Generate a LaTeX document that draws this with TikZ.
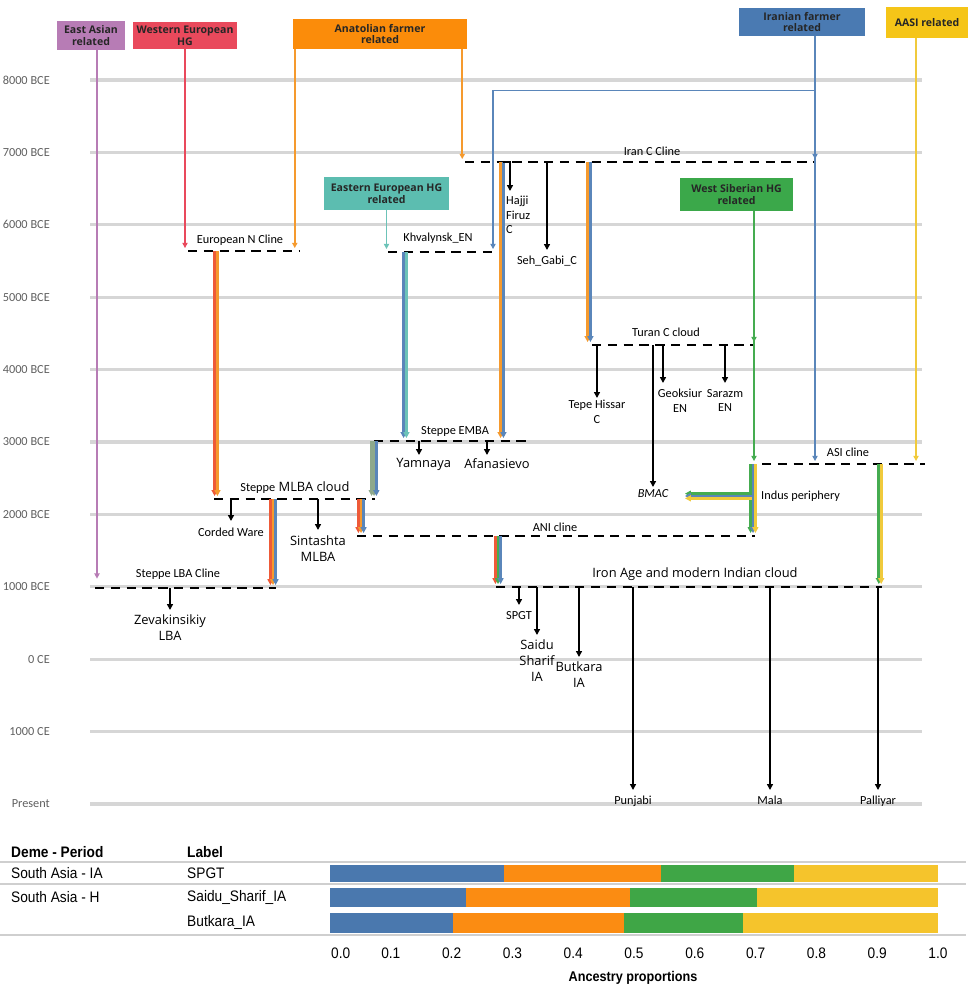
\documentclass[tikz,border=0pt]{standalone}
\usepackage{fontspec}
\setmainfont{Open Sans}
\newfontfamily\narrowfont{Carlito}
\newfontfamily\tablefont[FakeStretch=0.9]{Liberation Sans}
\usetikzlibrary{arrows.meta,calc,positioning}

\definecolor{eacol}{HTML}{B77CB5}
\definecolor{whgcol}{HTML}{E9495C}
\definecolor{anabox}{HTML}{FB8C0A}
\definecolor{anacol}{HTML}{F59A2E}
\definecolor{irbox}{HTML}{4A7AB2}
\definecolor{ircol}{HTML}{5A86BA}
\definecolor{aabox}{HTML}{F5C518}
\definecolor{aacol}{HTML}{F0CA3C}
\definecolor{ehbox}{HTML}{5CBDB0}
\definecolor{ehcol}{HTML}{6CC3B8}
\definecolor{wsbox}{HTML}{3BA84A}
\definecolor{wscol}{HTML}{45AC50}
\definecolor{redmix}{HTML}{EE5A38}
\definecolor{sagecol}{HTML}{8EA98C}
\definecolor{gridcol}{HTML}{D6D6D6}
\definecolor{yrcol}{HTML}{606060}
\definecolor{sepcol}{HTML}{CFCFCF}
\definecolor{barblue}{HTML}{4A78AE}
\definecolor{barorange}{HTML}{FB8C12}
\definecolor{bargreen}{HTML}{3FA646}
\definecolor{baryellow}{HTML}{F5C42C}

\newlength\pxu
\setlength\pxu{0.03cm}

% several coloured strands side by side, one arrow tip each
\newcommand\bundle[4][xshift]{%
  \foreach \bc/\bo in {#4}{\draw[bund,\bc] ([#1=\bo]#2) -- ([#1=\bo]#3);}}

\tikzset{
  yrline/.style={gridcol,line width=2.6pt},
  cline/.style={black,line width=2.3pt,dash pattern=on 8pt off 5.5pt},
  src/.style={line width=1.6pt,-{Triangle[length=4.5pt,width=4.5pt]},shorten >=2.5pt},
  bund/.style={line width=2.4pt,-{Triangle[length=5pt,width=5pt]},shorten >=2.5pt},
  kid/.style={black,line width=1.4pt,-{Triangle[length=5pt,width=5pt]}},
  srcbox/.style={inner sep=0pt,align=center,text=black!85,font=\bfseries\fontsize{9}{10.2}\selectfont},
  lbl/.style={inner sep=0pt,align=center,font=\narrowfont\fontsize{10.5}{12.5}\selectfont},
  wlbl/.style={inner sep=0pt,align=center,font=\fontsize{11}{13.5}\selectfont},
  yr/.style={inner sep=0pt,anchor=east,text=yrcol,font=\narrowfont\fontsize{10.5}{12}\selectfont},
  tabtxt/.style={inner sep=0pt,anchor=west,font=\tablefont\fontsize{13}{15}\selectfont},
  tabhead/.style={tabtxt,font=\tablefont\bfseries\fontsize{13}{15}\selectfont},
  tabline/.style={sepcol,line width=1.3pt},
}

\begin{document}
\begin{tikzpicture}[x=0.03cm,y=-0.03cm]
  \fill[white] (0,0) rectangle (975,988);
  \useasboundingbox (0,0) rectangle (975,988);

  % time axis
  \foreach \yl [count=\i from 0] in {8000 BCE,7000 BCE,6000 BCE,5000 BCE,4000 BCE,3000 BCE,2000 BCE,1000 BCE,0 CE,1000 CE,Present}{
    \draw[yrline] (90,{80+72.4*\i}) -- (922,{80+72.4*\i});
    \node[yr] (yr\i) at (50,{80+72.4*\i}) {\yl};
  }

  % source populations
  \node[srcbox,fill=eacol,minimum width=68\pxu,minimum height=29\pxu] (eas) at (91,35.5) {East Asian\\related};
  \node[srcbox,fill=whgcol,minimum width=104\pxu,minimum height=27\pxu] (weh) at (185,35.5) {Western European\\HG};
  \node[srcbox,fill=anabox,minimum width=174\pxu,minimum height=30\pxu] (ana) at (380,34) {Anatolian farmer\\related};
  \node[srcbox,fill=irbox,minimum width=126\pxu,minimum height=28\pxu] (irf) at (802,22) {Iranian farmer\\related};
  \node[srcbox,fill=aabox,minimum width=82\pxu,minimum height=31\pxu] (asr) at (927,22.5) {AASI related};
  \node[srcbox,fill=ehbox,minimum width=125\pxu,minimum height=33\pxu] (ehg) at (386.5,193.5) {Eastern European HG\\related};
  \node[srcbox,fill=wsbox,minimum width=113\pxu,minimum height=33\pxu] (wsh) at (736.5,194.5) {West Siberian HG\\related};

  % clines and clouds
  \foreach \nm/\xa/\xb/\yy in {enc/188/300/251, khv/388/497/252, irc/465/815/162,
      emb/374/526/441, tur/592/755/345, mlb/214/375/499, asi/762/925/464,
      ani/357/755/536, lba/95/276/588, ira/496/882/587}{
    \coordinate (\nm-w) at (\xa,\yy);
    \coordinate (\nm-e) at (\xb,\yy);
    \draw[cline] (\nm-w) -- (\nm-e);
  }

  % arrows out of the sources
  \coordinate (eas-s) at ($(eas.south)+(6,0)$);
  \draw[src,eacol,shorten >=8pt] (eas-s) -- (eas-s |- lba-w);
  \draw[src,whgcol] (weh.south) -- (weh.south |- enc-w);
  \coordinate (ana-l) at ($(ana.south west)+(2,0)$);
  \coordinate (ana-r) at ($(ana.south east)+(-5,0)$);
  \draw[src,anacol] (ana-l) -- (ana-l |- enc-e);
  \draw[src,anacol] (ana-r) -- (ana-r |- irc-w);
  \draw[src,ehcol] (ehg.south) -- (ehg.south |- khv-w);
  \coordinate (irf-s) at ($(irf.south)+(13,0)$);
  \coordinate (irf-k) at ($(irf-s)+(0,54)$);
  \coordinate (khv-in) at ($(khv-e)+(-4,0)$);
  \draw[src,ircol] (irf-s) -- (irf-s |- asi-w);
  \draw[src,ircol] (irf-s) -- (irf-s |- irc-e);
  \draw[src,ircol,line width=1.2pt] (irf-k) -| (khv-in);
  \coordinate (asr-s) at ($(asr.south)+(-11,0)$);
  \draw[src,aacol] (asr-s) -- (asr-s |- asi-e);
  \coordinate (wsh-s) at ($(wsh.south)+(17.5,0)$);
  \draw[src,wscol] (wsh-s) -- (wsh-s |- asi-w);
  \draw[src,wscol] (wsh-s) -- (wsh-s |- tur-e);

  % mixed flows between clines
  \coordinate (enc-d) at (216,251);
  \coordinate (khv-d) at (405,252);
  \coordinate (irc-d) at (502,162);
  \coordinate (irc-t) at (589,162);
  \coordinate (emb-d) at (374,441);
  \coordinate (mlb-d) at (273,499);
  \coordinate (mlb-n) at (361,499);
  \coordinate (ani-d) at (498,536);
  \coordinate (ind-a) at (753,464);
  \coordinate (ind-m) at (752,496);
  \coordinate (bma-in) at (682,496);
  \coordinate (asi-d) at (880,464);
  \bundle{enc-d}{enc-d |- mlb-w}{redmix/-1.2pt,anacol/1.2pt}
  \bundle{khv-d}{khv-d |- emb-w}{ircol/-1.2pt,ehcol/1.2pt}
  \bundle{irc-d}{irc-d |- emb-w}{anacol/-1.2pt,ircol/1.2pt}
  \bundle{irc-t}{irc-t |- tur-w}{anacol/-1.2pt,ircol/1.2pt}
  \bundle{emb-d}{emb-d |- mlb-w}{sagecol/-2pt,sagecol/0pt,ircol/2pt}
  \bundle{mlb-d}{mlb-d |- lba-w}{redmix/-2.2pt,anacol/0pt,ircol/2.2pt}
  \bundle{mlb-n}{mlb-n |- ani-w}{redmix/-2.2pt,anacol/0pt,ircol/2.2pt}
  \bundle{ani-d}{ani-d |- ira-w}{redmix/-2.2pt,wscol/0pt,ircol/2.2pt}
  \bundle{ind-a}{ind-a |- ani-w}{wscol/-2pt,ircol/0pt,aacol/2pt}
  \bundle[yshift]{ind-m}{bma-in}{wscol/2pt,ircol/0pt,aacol/-2pt}
  \bundle{asi-d}{asi-d |- ira-w}{wscol/-1pt,aacol/1pt}

  % cline labels
  \node[lbl] (encL) at (240,240) {European N Cline};
  \node[lbl] (khvL) at (438,238) {Khvalynsk\_EN};
  \node[lbl] (ircL) at (652,151) {Iran C Cline};
  \node[lbl] (turL) at (666,332) {Turan C cloud};
  \node[lbl] (embL) at (455,431) {Steppe EMBA};
  \node[lbl] (asiL) at (848,452) {ASI cline};
  \node[wlbl] (mlbL) at (295,488) {{\narrowfont\fontsize{10.5}{12}\selectfont Steppe} MLBA cloud};
  \node[lbl] (aniL) at (555,527) {ANI cline};
  \node[lbl] (lbaL) at (178,574) {Steppe LBA Cline};
  \node[wlbl] (iraL) at (695,574) {Iron Age and modern Indian cloud};
  \node[lbl,anchor=west] (indL) at (761,496) {Indus periphery};

  % sampled groups
  \coordinate (haj-a) at (503,162);
  \coordinate (haj-t) at (510,191);
  \draw[kid] (haj-a) -| (haj-t);
  \node[lbl,anchor=north west,align=left] (haj) at (506,196) {Hajji\\Firuz\\C};
  \foreach \nm/\xx/\ya/\yb in {seh/547/162/250, tep/597/345/398, geo/663/345/383,
      sar/725/345/383, bma/653/345/487, yam/419/441/455, afa/487/441/455,
      cor/231/499/521, sint/318/499/530, zev/170/588/610, spg/519/587/605,
      sai/537/587/635, butk/579/587/657, pun/633/587/790, mal/770/587/790,
      pal/878/587/790}{
    \coordinate (\nm-a) at (\xx,\ya);
    \coordinate (\nm-t) at (\xx,\yb);
    \draw[kid] (\nm-a) -- (\nm-t);
  }
  \node[lbl,below=5pt of seh-t] (seh) {Seh\_Gabi\_C};
  \node[lbl,below=1.5pt of tep-t] (tep) {Tepe Hissar\\C};
  \node[lbl,below=5pt of geo-t,xshift=14.5pt] (geo) {Geoksiur\\EN};
  \node[lbl,below=5pt of sar-t] (sar) {Sarazm\\EN};
  \node[lbl,below=2pt of bma-t,font=\narrowfont\itshape\fontsize{10.5}{12}\selectfont] (bmac) {BMAC};
  \node[wlbl,below=2.5pt of yam-t,xshift=4pt] (yam) {Yamnaya};
  \node[wlbl,below=2.5pt of afa-t,xshift=8.5pt] (afa) {Afanasievo};
  \node[lbl,below=6pt of cor-t] (cor) {Corded Ware};
  \node[wlbl,below=5pt of sint-t] (sint) {Sintashta\\MLBA};
  \node[wlbl,below=4pt of zev-t] (zev) {Zevakinsikiy\\LBA};
  \node[lbl,below=5pt of spg-t] (spg) {SPGT};
  \node[wlbl,below=4pt of sai-t] (sai) {Saidu\\Sharif\\IA};
  \node[wlbl,below=4pt of butk-t] (butk) {Butkara\\IA};
  \node[lbl,below=5pt of pun-t] (pun) {Punjabi};
  \node[lbl,below=5pt of mal-t] (mal) {Mala};
  \node[lbl,below=5pt of pal-t] (pal) {Palliyar};

  % ancestry table
  \draw[tabline] (0,862) -- (966,862);
  \draw[tabline] (0,884) -- (966,884);
  \draw[tabline] (0,935) -- (966,935);
  \node[tabhead] (hdem) at (11,852) {Deme - Period};
  \node[tabhead] (hlab) at (187,852) {Label};
  \node[tabtxt] (r1a) at (11,873) {South Asia - IA};
  \node[tabtxt] (r1b) at (187,873) {SPGT};
  \node[tabtxt] (r2a) at (11,897) {South Asia - H};
  \node[tabtxt] (r2b) at (187,897) {Saidu\_Sharif\_IA};
  \node[tabtxt] (r3b) at (187,922) {Butkara\_IA};
  \foreach \yt/\yb/\fb/\fo/\fg in {865/882/0.286/0.545/0.763,
      888/907/0.224/0.494/0.702, 913/933/0.202/0.484/0.679}{
    \fill[barblue] (330,\yt) rectangle ({330+608*\fb},\yb);
    \fill[barorange] ({330+608*\fb},\yt) rectangle ({330+608*\fo},\yb);
    \fill[bargreen] ({330+608*\fo},\yt) rectangle ({330+608*\fg},\yb);
    \fill[baryellow] ({330+608*\fg},\yt) rectangle (938,\yb);
  }
  \node[tabtxt] (tk0) at (331,953) {0.0};
  \foreach \tk [count=\i] in {0.1,0.2,0.3,0.4,0.5,0.6,0.7,0.8,0.9,1.0}{
    \node[tabtxt,anchor=center] (tk\i) at ({330+608*\i/10},953) {\tk};
  }
  \node[tabhead,anchor=center,font=\tablefont\bfseries\fontsize{12}{14}\selectfont] (axl) at (633,978) {Ancestry proportions};
\end{tikzpicture}
\end{document}
